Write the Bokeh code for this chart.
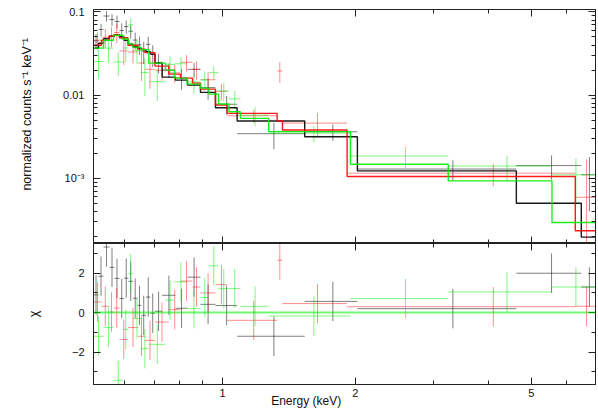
from bokeh.plotting import figure
from bokeh.models import Range1d, FixedTicker, LogAxis, LinearAxis, Span
from bokeh.layouts import column
from bokeh.embed import file_html
from bokeh.resources import INLINE

# ---------------- data ----------------
# bin edges in keV
black_edges = [0.5106, 0.5241, 0.5379, 0.5550, 0.5696, 0.5846, 0.5985, 0.6127, 0.6272, 0.6421,
               0.6556, 0.6712, 0.6871, 0.7034, 0.7303, 0.7826, 0.8334, 0.8917, 0.9642, 1.0796,
               1.5354, 2.0205, 4.6268, 6.4909, 7.0533]
black_model = [.0367, .0421, .0477, .0511, .0532, .0504, .0457, .0410, .0382, .0367, .0352, .0333,
               .0311, .0242, .01644, .01514, .01318, .01078, .00704, .00487, .00316, .001224,
               .000501, .0001957]
black_data = [.0450, .0615, .0893, .0810, .0767, .0598, .0667, .0585, .0459, .0404, .0338, .0408,
              .0308, .0247, .0200, .0161, .0204, .0123, .00776, .00343, .00362, .00129, .00142, .00110]
black_err = [.0092, .0105, .0125, .0130, .0135, .0130, .0120, .0110, .0105, .0100, .0100, .0095,
             .0090, .0065, .0040, .0045, .0040, .0035, .0020, .0012, .0008, .00035, .00046, .0007]
black_chi = [0.9, 1.85, 3.33, 2.3, 1.74, 0.72, 1.75, 1.59, 0.73, 0.37, -0.14, 0.79, -0.03, 0.07,
             0.88, 0.22, 1.8, 0.42, 0.36, -1.2, 0.57, 0.2, 2.0, 1.3]

red_edges = [0.5106, 0.5323, 0.5535, 0.5681, 0.5846, 0.6111, 0.6437, 0.6677, 0.7034, 0.7559,
             0.8033, 0.8553, 0.8917, 0.9642, 1.0248, 1.3299, 1.3672, 1.9151, 6.2912, 7.0533]
red_model = [.0398, .0457, .0511, .0532, .0490, .0398, .0357, .0324, .0223, .01786, .01600,
             .01393, .01180, .00758, .00603, .00487, .00380, .001051, .000233]
red_data = [.0457, .0497, .0515, .0565, .0340, .0330, .0243, .0204, .0199, .0185, .0248, .0204,
            .0153, .0111, .00564, .0195, .0046, .00115, .00059]
red_err = [.0110, .0125, .0140, .0145, .0110, .0090, .0095, .0085, .0050, .0045, .0055, .0050,
           .0035, .0025, .0010, .0055, .0015, .00035, .0011]
red_chi = [0.54, 0.32, 0.03, 0.23, -1.36, -0.76, -1.2, -1.41, -0.48, 0.15, 1.6, 1.3, 1.0, 1.42,
           -0.39, 2.66, 0.46, 0.3, 0.32]

green_edges = [0.5106, 0.5379, 0.5666, 0.5954, 0.6127, 0.6272, 0.6539, 0.6811, 0.7430, 0.7786,
               0.8321, 0.8917, 0.9321, 0.9794, 1.0344, 1.0982, 1.2725, 1.9483, 3.2447, 5.5710, 7.0533]
green_model = [.0367, .0457, .0525, .0470, .0410, .0377, .0352, .0242, .01995, .0160, .01355,
               .01213, .01028, .0078, .0063, .00525, .00363, .001472, .000928, .000293]
green_data = [.0253, .0367, .0250, .0368, .070, .0344, .0187, .0145, .0234, .0238, .0144, .0152,
              .0186, .0112, .0090, .00573, .00349, .00185, .00140, .00110]
green_err = [.0095, .0120, .0080, .0120, .0147, .0110, .0090, .0060, .0055, .0050, .0040, .0040,
             .0035, .0028, .0022, .0015, .0008, .00053, .00045, .00063]
green_chi = [-1.2, -0.75, -3.44, -0.85, 1.98, -0.3, -1.83, -1.61, 0.63, 1.56, 0.2, 0.77, 2.38,
             1.22, 1.22, 0.32, -0.17, 0.71, 1.05, 1.3]

x_ticks = [1, 2, 5]
x_minor = [0.6, 0.7, 0.8, 0.9, 3, 4, 6, 7]
x_labels = {1: "1", 2: "2", 5: "5"}
top_y_ticks = [0.001, 0.01, 0.1]
top_y_labels = {0.001: "10⁻³", 0.01: "0.01", 0.1: "0.1"}
bot_y_ticks = [-2, 0, 2]
bot_y_minor = [-3, -1, 1, 3]
bot_y_labels = {-2: "−2", 0: "0", 2: "2"}

x_title = "Energy (keV)"
y_title = "normalized counts s⁻¹ keV⁻¹"
r_title = "χ"

datasets = [
    ("#000000", black_edges, black_model, black_data, black_err, black_chi, 0.5),
    ("#ff0000", red_edges, red_model, red_data, red_err, red_chi, 0.45),
    ("#00ee00", green_edges, green_model, green_data, green_err, green_chi, 0.5),
]

FONT = "Liberation Sans"
NBSP = "\u00a0"

top_minor = [m * 10.0 ** e for e in (-4, -3, -2) for m in range(2, 10)]

xr = Range1d(0.5106, 6.99)


def style(ax, show_labels):
    ax.major_tick_in = 7
    ax.major_tick_out = 0
    ax.minor_tick_in = 4
    ax.minor_tick_out = 0
    ax.axis_line_color = "#222222"
    ax.major_tick_line_color = "#222222"
    ax.minor_tick_line_color = "#222222"
    ax.axis_label_text_font = FONT
    ax.axis_label_text_font_style = "normal"
    ax.axis_label_text_color = "#111111"
    ax.major_label_text_font = FONT
    ax.major_label_text_color = "#111111"
    if show_labels:
        ax.major_label_text_font_size = "11px"
        ax.axis_label_text_font_size = "12.5px"
    else:
        ax.major_label_text_font_size = "1px"
        ax.major_label_text_alpha = 0
        ax.major_label_standoff = 0


top = figure(x_axis_type="log", y_axis_type="log", x_range=xr,
             y_range=Range1d(1.64e-4, 0.107),
             frame_width=502, frame_height=234,
             min_border_left=93, min_border_right=3, min_border_top=9, min_border_bottom=0,
             output_backend="svg", toolbar_location=None)
bot = figure(x_axis_type="log", x_range=xr, y_range=Range1d(-3.65, 3.51),
             frame_width=502, frame_height=141,
             min_border_left=93, min_border_right=3, min_border_top=0, min_border_bottom=0,
             output_backend="svg", toolbar_location=None)

for f in (top, bot):
    f.grid.visible = False
    f.outline_line_color = "#222222"
    f.background_fill_color = "white"
    f.border_fill_color = "white"

xt = FixedTicker(ticks=x_ticks, minor_ticks=x_minor)
ytt = FixedTicker(ticks=top_y_ticks, minor_ticks=top_minor)
ybt = FixedTicker(ticks=bot_y_ticks, minor_ticks=bot_y_minor)

# top panel axes
top.xaxis[0].ticker = xt
style(top.xaxis[0], False)
top.yaxis[0].ticker = ytt
top.yaxis[0].major_label_overrides = top_y_labels
# leading no-break spaces move the visible title up, as in the reference
top.yaxis[0].axis_label = NBSP * 7 + y_title
style(top.yaxis[0], True)
top.yaxis[0].major_label_standoff = 9
top.yaxis[0].axis_label_standoff = 26
a = LogAxis(ticker=xt)
style(a, False)
top.add_layout(a, "above")
a = LogAxis(ticker=ytt)
style(a, False)
top.add_layout(a, "right")

# bottom panel axes
bot.xaxis[0].ticker = xt
bot.xaxis[0].major_label_overrides = x_labels
# trailing no-break spaces move the visible title left, as in the reference
bot.xaxis[0].axis_label = x_title + NBSP * 23
style(bot.xaxis[0], True)
bot.xaxis[0].axis_label_text_font_size = "12px"
bot.xaxis[0].major_label_standoff = 4
bot.xaxis[0].axis_label_standoff = -6
bot.yaxis[0].ticker = ybt
bot.yaxis[0].major_label_overrides = bot_y_labels
bot.yaxis[0].axis_label = r_title
style(bot.yaxis[0], True)
bot.yaxis[0].major_label_standoff = 9
bot.yaxis[0].axis_label_standoff = 28
a = LogAxis(ticker=xt)
style(a, False)
bot.add_layout(a, "above")
a = LinearAxis(ticker=ybt)
style(a, False)
bot.add_layout(a, "right")

bot.add_layout(Span(location=0, dimension="width", line_color="#00ee00",
                    line_width=2, line_alpha=0.55))

for color, edges, model, data, err, chi, alpha in datasets:
    lo = edges[:-1]
    hi = edges[1:]
    mid = [(a_ + b_) / 2 for a_, b_ in zip(lo, hi)]
    # top: data crosses
    top.segment(x0=lo, x1=hi, y0=data, y1=data, line_color=color, line_alpha=alpha, line_width=1)
    top.segment(x0=mid, x1=mid, y0=[max(d - e, 1e-6) for d, e in zip(data, err)],
                y1=[d + e for d, e in zip(data, err)], line_color=color, line_alpha=alpha,
                line_width=1)
    # bottom: residuals
    bot.segment(x0=lo, x1=hi, y0=chi, y1=chi, line_color=color, line_alpha=alpha, line_width=1)
    bot.segment(x0=mid, x1=mid, y0=[c - 1 for c in chi], y1=[c + 1 for c in chi],
                line_color=color, line_alpha=alpha, line_width=1)

for color, edges, model, data, err, chi, alpha in datasets:
    sx, sy = [], []
    for a_, b_, m in zip(edges[:-1], edges[1:], model):
        sx += [a_, b_]
        sy += [m, m]
    top.line(sx, sy, line_color=color, line_width=1.4, line_alpha=0.9)

layout = column(top, bot, spacing=0)
open("out.html", "w").write(file_html(layout, INLINE))
